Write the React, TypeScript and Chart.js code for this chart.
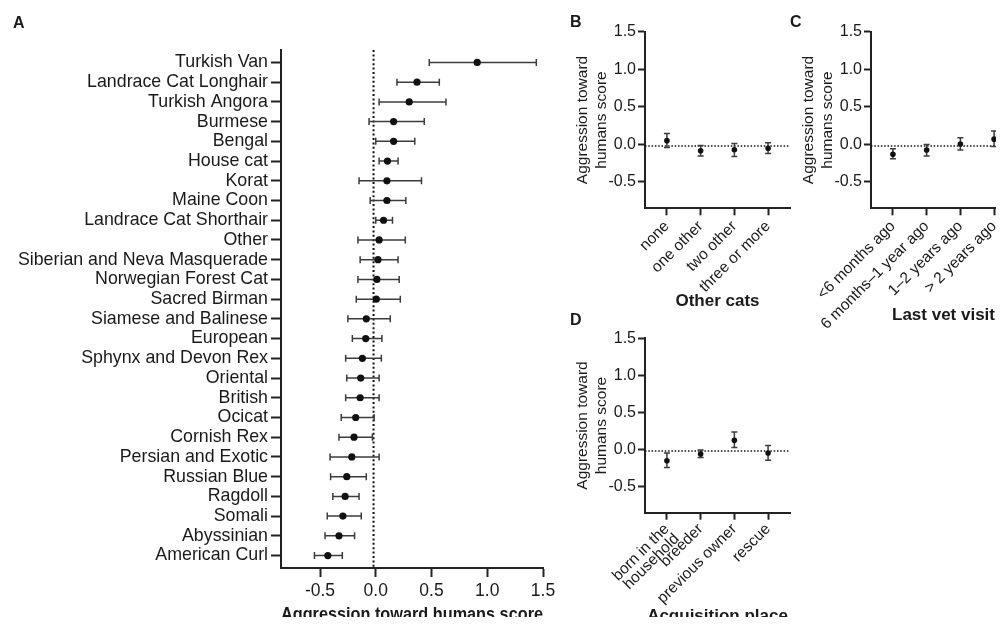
import React, { useEffect, useRef } from "react";
import { Chart, registerables } from "chart.js";

Chart.register(...registerables);

// ---------- Data ----------
const breeds = [
  "Turkish Van", "Landrace Cat Longhair", "Turkish Angora", "Burmese", "Bengal",
  "House cat", "Korat", "Maine Coon", "Landrace Cat Shorthair", "Other",
  "Siberian and Neva Masquerade", "Norwegian Forest Cat", "Sacred Birman",
  "Siamese and Balinese", "European", "Sphynx and Devon Rex", "Oriental", "British",
  "Ocicat", "Cornish Rex", "Persian and Exotic", "Russian Blue", "Ragdoll", "Somali",
  "Abyssinian", "American Curl",
];
const breedMean = [0.91, 0.37, 0.30, 0.16, 0.16, 0.105, 0.10, 0.10, 0.07, 0.03, 0.02, 0.01, 0.005,
  -0.085, -0.09, -0.12, -0.135, -0.14, -0.18, -0.195, -0.215, -0.26, -0.275, -0.295, -0.33, -0.43];
const breedLow = [0.48, 0.19, 0.03, -0.06, 0.0, 0.03, -0.15, -0.05, 0.0, -0.16, -0.14, -0.16, -0.175,
  -0.25, -0.21, -0.27, -0.26, -0.27, -0.31, -0.33, -0.41, -0.405, -0.385, -0.435, -0.455, -0.55];
const breedHigh = [1.44, 0.57, 0.63, 0.435, 0.35, 0.20, 0.41, 0.27, 0.15, 0.265, 0.20, 0.21, 0.22,
  0.13, 0.055, 0.05, 0.03, 0.03, -0.015, -0.03, 0.03, -0.085, -0.15, -0.13, -0.19, -0.30];
const scoreTicksA = [-0.5, 0, 0.5, 1.0, 1.5];

const otherCats = ["none", "one other", "two other", "three or more"];
const otherCatsMean = [0.05, -0.085, -0.07, -0.05];
const otherCatsLow = [-0.04, -0.155, -0.16, -0.12];
const otherCatsHigh = [0.145, -0.013, 0.013, 0.022];

const vetVisit = ["<6 months ago", "6 months\u20131 year ago", "1\u20132 years ago", "> 2 years ago"];
const vetVisitMean = [-0.13, -0.075, 0.005, 0.07];
const vetVisitLow = [-0.19, -0.155, -0.075, -0.027];
const vetVisitHigh = [-0.058, 0.0, 0.09, 0.178];

const acquisition: (string | string[])[] = [["born in the", "household"], "breeder", "previous owner", "rescue"];
const acquisitionMean = [-0.15, -0.06, 0.125, -0.045];
const acquisitionLow = [-0.24, -0.107, 0.027, -0.143];
const acquisitionHigh = [-0.045, -0.005, 0.236, 0.054];

const scoreTicksSmall = [-0.5, 0, 0.5, 1.0, 1.5];
const referenceValue = -0.02;

// ---------- Styles ----------
const FONT = "'Liberation Sans', Arial, Helvetica, sans-serif";
const TXT = "#1a1a1a";
const AX = "#222222";
const BAR = "#3c3c3c";
const DOT = "#111111";

function errorBarPlugin(low: number[], high: number[], horizontal: boolean, cap: number, width: number) {
  return {
    id: "errorBars",
    beforeDatasetsDraw(chart: any) {
      const { ctx } = chart;
      const xs = chart.scales.x;
      const ys = chart.scales.y;
      ctx.save();
      ctx.strokeStyle = BAR;
      ctx.lineWidth = width;
      low.forEach((l, i) => {
        const h = high[i];
        ctx.beginPath();
        if (horizontal) {
          const y = ys.getPixelForValue(i);
          const x1 = xs.getPixelForValue(l);
          const x2 = xs.getPixelForValue(h);
          ctx.moveTo(x1, y); ctx.lineTo(x2, y);
          ctx.moveTo(x1, y - cap); ctx.lineTo(x1, y + cap);
          ctx.moveTo(x2, y - cap); ctx.lineTo(x2, y + cap);
        } else {
          const x = xs.getPixelForValue(i);
          const y1 = ys.getPixelForValue(l);
          const y2 = ys.getPixelForValue(h);
          ctx.moveTo(x, y1); ctx.lineTo(x, y2);
          ctx.moveTo(x - cap, y1); ctx.lineTo(x + cap, y1);
          ctx.moveTo(x - cap, y2); ctx.lineTo(x + cap, y2);
        }
        ctx.stroke();
      });
      ctx.restore();
    },
  };
}

function refLinePlugin(value: number, vertical: boolean, width: number) {
  return {
    id: "refLine",
    beforeDatasetsDraw(chart: any) {
      const { ctx, chartArea } = chart;
      ctx.save();
      ctx.strokeStyle = "#111";
      ctx.lineWidth = width;
      ctx.setLineDash([width, width * 1.2]);
      ctx.beginPath();
      if (vertical) {
        const x = chart.scales.x.getPixelForValue(value);
        ctx.moveTo(x, chartArea.top);
        ctx.lineTo(x, chartArea.bottom);
      } else {
        const y = chart.scales.y.getPixelForValue(value);
        ctx.moveTo(chartArea.left, y);
        ctx.lineTo(chartArea.right, y);
      }
      ctx.stroke();
      ctx.restore();
    },
  };
}

function configA() {
  return {
    type: "scatter",
    data: {
      datasets: [{
        data: breedMean.map((m, i) => ({ x: m, y: i })),
        pointRadius: 3.6,
        pointHoverRadius: 3.6,
        backgroundColor: DOT,
        borderColor: DOT,
        borderWidth: 0,
      }],
    },
    options: {
      responsive: false,
      animation: false,
      devicePixelRatio: 1,
      events: [],
      layout: { padding: { left: 0, top: 50, right: 17, bottom: 0 } },
      plugins: { legend: { display: false }, tooltip: { enabled: false } },
      scales: {
        x: {
          type: "linear",
          min: -0.85,
          max: 1.5,
          afterBuildTicks: (s: any) => { s.ticks = scoreTicksA.map((v) => ({ value: v })); },
          afterFit: (s: any) => { s.height = 57; },
          grid: { drawOnChartArea: false, drawTicks: true, tickLength: 9, tickWidth: 2, tickColor: AX },
          border: { display: true, width: 2, color: AX },
          ticks: {
            autoSkip: false, maxRotation: 0, padding: 4, color: TXT,
            font: { family: FONT, size: 17.5 },
            callback: (v: any) => Number(v).toFixed(1),
          },
          title: {
            display: true, text: "Aggression toward humans score", color: TXT,
            font: { family: FONT, size: 17.5, weight: "bold", lineHeight: 1 },
            padding: { top: 0, bottom: 1 },
          },
        },
        y: {
          type: "linear",
          reverse: true,
          min: -0.63,
          max: 25.63,
          afterBuildTicks: (s: any) => { s.ticks = breeds.map((_, i) => ({ value: i })); },
          afterFit: (s: any) => { s.width = 281; },
          grid: { drawOnChartArea: false, drawTicks: true, tickLength: 10, tickWidth: 2, tickColor: AX },
          border: { display: true, width: 2, color: AX },
          ticks: {
            autoSkip: false, padding: 3, color: TXT,
            font: { family: FONT, size: 17.8 },
            callback: (v: any) => breeds[Math.round(Number(v))],
          },
        },
      },
    },
    plugins: [refLinePlugin(referenceValue, true, 2), errorBarPlugin(breedLow, breedHigh, true, 3.5, 1.5)],
  };
}

function configSmall(
  labels: (string | string[])[], mean: number[], low: number[], high: number[], title: string,
  padTop: number, titleBottom: number, xHeight: number, tickLineHeight: number,
) {
  return {
    type: "scatter",
    data: {
      datasets: [{
        data: mean.map((m, i) => ({ x: i, y: m })),
        pointRadius: 2.8,
        pointHoverRadius: 2.8,
        backgroundColor: DOT,
        borderColor: DOT,
        borderWidth: 0,
      }],
    },
    options: {
      responsive: false,
      animation: false,
      devicePixelRatio: 1,
      events: [],
      layout: { padding: { left: 0, top: padTop, right: 10, bottom: 0 } },
      plugins: { legend: { display: false }, tooltip: { enabled: false } },
      scales: {
        x: {
          type: "linear",
          min: -0.65,
          max: 3.65,
          afterBuildTicks: (s: any) => { s.ticks = labels.map((_, i) => ({ value: i })); },
          afterFit: (s: any) => { s.height = xHeight; },
          grid: { drawOnChartArea: false, drawTicks: true, tickLength: 7, tickWidth: 2, tickColor: AX },
          border: { display: true, width: 2, color: AX },
          ticks: {
            autoSkip: false, minRotation: 45, maxRotation: 45, padding: 2, color: TXT,
            font: { family: FONT, size: 15.5, lineHeight: tickLineHeight },
            callback: (v: any) => labels[Math.round(Number(v))],
          },
          title: {
            display: true, text: title, color: TXT,
            font: { family: FONT, size: 17, weight: "bold", lineHeight: 1 },
            padding: { top: 0, bottom: titleBottom },
          },
        },
        y: {
          type: "linear",
          min: -0.85,
          max: 1.5,
          afterBuildTicks: (s: any) => { s.ticks = scoreTicksSmall.map((v) => ({ value: v })); },
          afterFit: (s: any) => { s.width = 85; },
          grid: { drawOnChartArea: false, drawTicks: true, tickLength: 7, tickWidth: 2, tickColor: AX },
          border: { display: true, width: 2, color: AX },
          ticks: {
            autoSkip: false, padding: 2, color: TXT,
            font: { family: FONT, size: 16 },
            callback: (v: any) => Number(v).toFixed(1),
          },
          title: {
            display: true, text: ["Aggression toward", "humans score"], color: TXT,
            font: { family: FONT, size: 15.5, lineHeight: 1.2 },
            padding: { top: 13.7, bottom: 0 },
          },
        },
      },
    },
    plugins: [refLinePlugin(referenceValue, false, 1.5), errorBarPlugin(low, high, false, 3, 1.5)],
  };
}

function ChartBox(props: { left: number; top: number; width: number; height: number; make: () => any }) {
  const ref = useRef<HTMLCanvasElement | null>(null);
  useEffect(() => {
    const chart = new Chart(ref.current as HTMLCanvasElement, props.make());
    return () => chart.destroy();
  }, []);
  return (
    <canvas
      ref={ref}
      width={props.width}
      height={props.height}
      style={{ position: "absolute", left: props.left, top: props.top, width: props.width, height: props.height }}
    />
  );
}

function Letter(props: { text: string; left: number; top: number }) {
  return (
    <div
      style={{
        position: "absolute", left: props.left, top: props.top, fontFamily: FONT,
        fontWeight: "bold", fontSize: 16, lineHeight: "16px", color: TXT,
      }}
    >
      {props.text}
    </div>
  );
}

export default function App() {
  return (
    <div style={{ position: "relative", width: 1004, height: 625, margin: -8, overflow: "hidden", background: "#fff" }}>
      <ChartBox left={0} top={0} width={560} height={625} make={configA} />
      <ChartBox left={560} top={0} width={240} height={310}
        make={() => configSmall(otherCats, otherCatsMean, otherCatsLow, otherCatsHigh, "Other cats", 31.7, 0, 101.7, 1.2)} />
      <ChartBox left={786} top={0} width={240} height={345}
        make={() => configSmall(vetVisit, vetVisitMean, vetVisitLow, vetVisitHigh, "Last vet visit", 31.7, 21.5, 136.7, 1.2)} />
      <ChartBox left={560} top={300} width={240} height={325}
        make={() => configSmall(acquisition, acquisitionMean, acquisitionLow, acquisitionHigh, "Acquisition place", 38.3, 0, 112.3, 0.9)} />
      <Letter text="A" left={13} top={15} />
      <Letter text="B" left={570} top={14} />
      <Letter text="C" left={790} top={14} />
      <Letter text="D" left={570} top={312} />
    </div>
  );
}
